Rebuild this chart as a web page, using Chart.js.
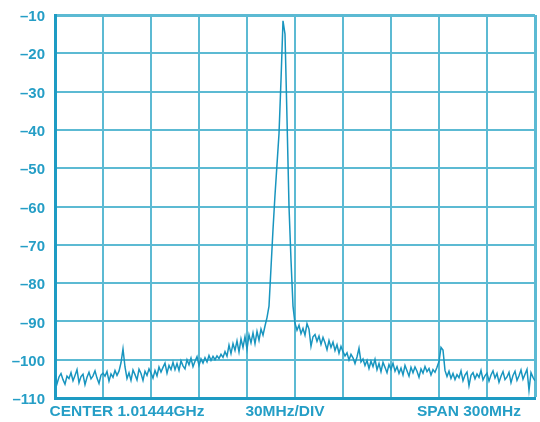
<!DOCTYPE html>
<html>
<head>
<meta charset="utf-8">
<script src="https://cdn.jsdelivr.net/npm/chart.js@4/dist/chart.umd.min.js"></script>
<style>
  html, body { margin: 0; padding: 0; background: #ffffff; }
  #wrap { width: 540px; height: 422px; }
</style>
</head>
<body>
<div id="wrap"><canvas id="c" width="540" height="422"></canvas></div>
<script>
// ---- data ----
const spanMHz = 300;          // full span
const stepMHz = 1.25;         // sweep step between samples
const yTicks = [-110, -100, -90, -80, -70, -60, -50, -40, -30, -20, -10];
const bottomLabels = ['CENTER 1.01444GHz', '30MHz/DIV', 'SPAN 300MHz'];
const bottomLabelAt = [45, 143.75, 258.75]; // MHz positions along span

// measured level (dBm) per sweep sample, left to right
const levelLeft = [
  -104.0, -106.3, -104.5, -103.6, -105.2, -106.4, -104.3, -104.9, -103.4, -105.5,
  -104.1, -102.6, -106.0, -104.4, -103.8, -106.5, -104.6, -103.3, -105.0, -104.2,
  -102.9, -104.8, -106.2, -104.0, -103.5,
  -104.3, -103.1, -105.6, -103.7, -104.6, -102.8, -104.1, -103.0, -100.8, -97.2,
  -101.9, -104.9, -103.4, -105.4, -102.7, -103.9, -105.3, -102.5, -103.6, -105.4,
  -103.0, -104.1, -102.4, -103.5, -104.8,
  -102.8, -104.2, -101.9, -103.2, -102.0, -100.9, -103.5, -101.5, -102.6, -100.7,
  -102.6, -101.0, -102.8, -100.3, -101.6, -102.4, -100.0, -101.3, -99.6, -101.8,
  -100.4, -99.2, -101.5, -99.8, -100.9,
  -99.5, -100.6, -98.9, -100.2, -99.1, -100.0, -99.0, -99.7, -98.6, -99.4,
  -97.9, -99.1, -96.2, -98.4, -95.8, -97.6, -95.1, -98.0, -94.6, -96.8,
  -94.0, -97.2, -93.5, -95.6, -93.0,
  -95.8, -92.6, -94.9, -92.0, -93.6, -91.2
];
const levelPeak = [
  -89.0, -86.0, -76.0, -66.0, -57.0, -49.0, -41.0, -27.0, -11.5, -15.0,
  -37.0, -60.0, -74.0, -86.0
];
const levelRight = [
  -90.5, -92.3, -91.0, -93.2, -91.8, -93.6, -90.6, -92.0, -96.5, -94.0,
  -93.4, -95.2, -93.8, -96.0, -94.2, -95.6, -97.4, -95.0, -96.8, -95.4,
  -97.6, -96.1, -98.3, -96.5, -97.9, -99.0,
  -98.2, -100.1, -98.6, -99.5, -101.0, -99.3, -97.0, -100.6, -99.8, -101.5,
  -100.2, -102.3, -100.4, -101.8, -99.9, -102.6, -101.0, -103.1, -100.7, -102.0,
  -103.4, -101.3, -102.5, -100.9, -103.0,
  -101.8, -103.6, -102.2, -104.0, -101.5, -102.9, -104.3, -102.0, -103.4, -101.9,
  -103.0, -104.6, -102.4, -103.5, -101.8, -103.1, -102.3, -104.0, -102.6, -103.3,
  -102.0, -100.5, -96.8, -97.5, -102.8,
  -104.4, -103.0, -104.9, -103.6, -105.2, -103.9, -104.7, -102.9, -105.5, -104.0,
  -103.2, -106.8, -104.1, -103.4, -105.0, -103.7, -104.6, -102.8, -105.3, -104.2,
  -103.5, -105.6, -104.0, -102.9, -104.8, -103.6, -105.9, -104.3, -103.1, -105.2,
  -104.5, -103.3, -106.0, -104.1, -103.0, -105.4, -104.2, -102.7, -105.1, -103.8,
  -102.5, -108.0, -103.4, -104.6, -105.5
];

// ---- build ----
const levels = levelLeft.concat(levelPeak, levelRight);
const points = levels.map((v, i) => ({ x: i * stepMHz, y: v }));

const TEXT = '#259ec6';
const GRID = '#5cbad3';
const FRAME = '#1e9bc3';
const TRACE = '#1895bf';
const FONT = "'Liberation Sans', Arial, Helvetica, sans-serif";

new Chart(document.getElementById('c'), {
  type: 'line',
  data: {
    datasets: [{
      data: points,
      borderColor: TRACE,
      borderWidth: 1.5,
      pointRadius: 0,
      tension: 0,
      fill: false
    }]
  },
  options: {
    responsive: false,
    animation: false,
    layout: { padding: { left: 0, right: 5, top: 15, bottom: 0 } },
    plugins: { legend: { display: false }, tooltip: { enabled: false } },
    scales: {
      x: {
        type: 'linear',
        min: 0, max: spanMHz,
        position: 'bottom',
        ticks: { display: false, stepSize: 30 },
        afterBuildTicks: s => { s.ticks = []; for (let v = 0; v <= spanMHz; v += 30) s.ticks.push({ value: v }); },
        grid: {
          color: GRID,
          lineWidth: c => (c.index === 10 ? 3 : 2),
          drawTicks: false
        },
        border: { display: true, color: FRAME, width: 3 },
        afterFit: s => { s.height = 0; s.paddingLeft = 0; s.paddingRight = 0; }
      },
      x2: {
        type: 'linear',
        min: 0, max: spanMHz,
        position: 'bottom',
        afterBuildTicks: s => { s.ticks = bottomLabelAt.map(v => ({ value: v })); },
        ticks: {
          autoSkip: false, maxRotation: 0, padding: 4,
          color: TEXT,
          font: { family: FONT, size: 15.5, weight: 'bold' },
          callback: (v, i) => bottomLabels[i]
        },
        grid: { display: false, drawTicks: false },
        border: { display: false },
        afterFit: s => { s.height = 24; s.paddingLeft = 0; s.paddingRight = 0; }
      },
      y: {
        min: -110, max: -10,
        afterBuildTicks: s => { s.ticks = yTicks.map(v => ({ value: v })); },
        ticks: {
          padding: 10,
          labelOffset: 2,
          color: TEXT,
          font: { family: FONT, size: 15, weight: 'bold' },
          callback: v => '\u2013' + Math.abs(v)
        },
        grid: {
          color: GRID,
          lineWidth: c => (c.tick && c.tick.value === -10 ? 3 : 2),
          drawTicks: false
        },
        border: { display: true, color: FRAME, width: 3 },
        afterFit: s => { s.width = 55; s.paddingTop = 0; s.paddingBottom = 0; }
      }
    }
  }
});
</script>
</body>
</html>
